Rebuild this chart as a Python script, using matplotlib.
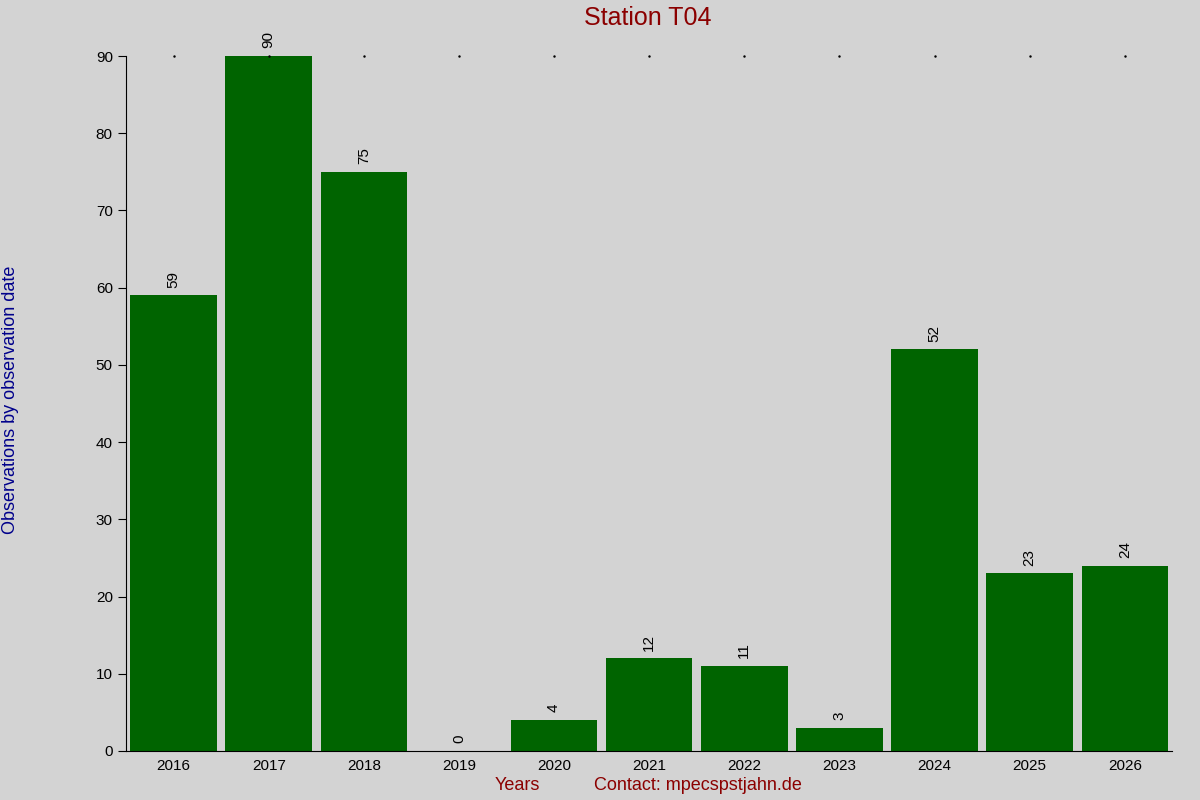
import matplotlib
matplotlib.use("Agg")
import matplotlib.pyplot as plt

years = ["2016","2017","2018","2019","2020","2021","2022","2023","2024","2025","2026"]
counts = [59, 90, 75, 0, 4, 12, 11, 3, 52, 23, 24]

plt.rcParams['font.family'] = ['Liberation Sans', 'DejaVu Sans']
fig = plt.figure(figsize=(12, 8), dpi=100, facecolor='#d3d3d3')
ax = fig.add_axes([0.105, 0.06125, 0.872, 0.86875], facecolor='#d3d3d3')
x = range(len(years))
ax.bar(x, counts, width=0.91, color='#006400')
for i, v in enumerate(counts):
    ax.text(i, v + 1, str(v), rotation=90, ha='center', va='bottom', fontsize=11)
ax.set_xlim(-0.5, len(years) - 0.5)
ax.set_ylim(0, 90)
ax.set_xticks(list(x))
ax.set_xticklabels(years, fontsize=11)
ax.set_yticks(range(0, 91, 10))
ax.tick_params(axis='y', labelsize=11, direction='out', length=6)
ax.tick_params(axis='x', length=0, pad=6)
for s in ['top', 'right']:
    ax.spines[s].set_visible(False)
for i in x:
    ax.plot(i, 90, marker='.', markersize=1.5, color='black', clip_on=False)
fig.text(0.54, 0.978, "Station T04", color='#8b0000', fontsize=18, ha='center', va='center')
fig.text(0.009, 0.5, "Observations by observation date", color='#00008b', fontsize=13,
         rotation=90, ha='center', va='center')
fig.text(0.431, 0.018, "Years", color='#8b0000', fontsize=13, ha='center', va='center')
fig.text(0.582, 0.018, "Contact: mpecspstjahn.de", color='#8b0000', fontsize=13, ha='center', va='center')
fig.savefig("out.png", dpi=100, facecolor=fig.get_facecolor())
